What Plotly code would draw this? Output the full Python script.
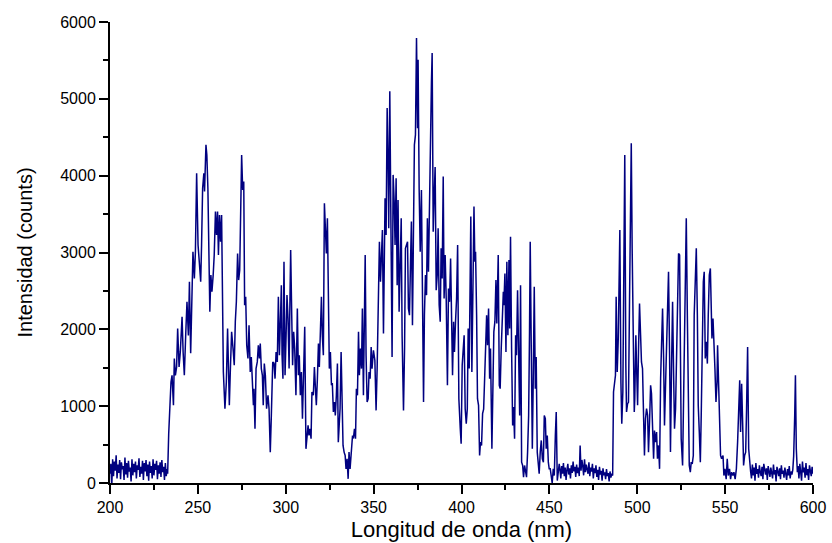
import numpy as np
import plotly.graph_objects as go

# ---- Baseline (noise) regions: start wavelength, step, counts ----
base1_start, base1_step = 200.0, 0.5
base1_counts = [120, 250, -50, 310, 90, 280, 160, 360, 60, 240,
                130, 300, 50, 270, 180, 220, 40, 330, 110, 260,
                70, 290, 150, 200, 20, 310, 100, 250, 140, 280,
                60, 230, 170, 320, 80, 210, 120, 290, 40, 260,
                150, 300, 90, 240, 30, 280, 130, 220, 60, 310,
                100, 250, 170, 290, 50, 230, 120, 270, 80, 300,
                140, 210, 40, 260, 90, 180]

base2_start, base2_step = 456.0, 0.5
base2_counts = [180, 60, 220, 120, 260, 90, 200, 40, 170, 250,
                110, 190, 60, 230, 130, 280, 150, 210, 80, 240,
                130, 200, 90, 489, 160, 300, 220, 100, 310, 140,
                240, 180, 120, 270, 90, 200, 150, 250, 60, 190,
                130, 230, 80, 170, 40, 210, 110, 160, 30, 190,
                100, 140, 50, 180, 90, 130, 20, 150, 70, 120, 97]

base3_start, base3_step = 564.5, 0.5
base3_counts = [150, 60, 240, 100, 200, 30, 260, 120, 180, 70,
                230, 140, 90, 210, 50, 250, 160, 110, 190, 40,
                220, 130, 80, 200, 150, 60, 240, 110, 170, 20,
                210, 140, 90, 190, 50, 230, 120, 160, 70, 200,
                130, 40, 180, 100, 220, 60, 150, 110, 170]

base4_start, base4_step = 591.5, 0.5
base4_counts = [220, 60, 250, 120, 30, 280, 140, 200, 70, 260,
                100, 180, 40, 230, 150, 90, 210, 120]

# ---- Emission regions: wavelength (nm) and counts ----
wl_a = [232.8, 233.4, 234.7, 235.3, 236.1, 236.6, 237.2, 237.9, 238.5, 239.3,
        240.0, 241.0, 241.6, 242.3, 243.1, 243.8, 244.6, 245.2, 245.9, 246.7,
        247.2, 248.0, 248.6, 249.3, 250.1, 250.8, 251.6, 252.1, 252.7, 253.4,
        253.8, 254.6, 255.1, 255.7, 256.3, 256.8, 257.4, 258.0, 258.7, 259.3,
        260.0, 260.6, 261.2, 261.7, 262.3, 262.9, 263.5]
counts_a = [120, 641, 1315, 1402, 1011, 1620, 1402, 1510, 2011, 1510,
            1706, 2163, 1706, 1402, 1945, 2358, 1920, 2619, 1690, 2793,
            3010, 2663, 3010, 4032, 3097, 2880, 2619, 3097, 3836, 4032,
            3793, 4401, 4270, 3836, 3053, 2228, 2706, 2489, 2706, 2967,
            3532, 3228, 3532, 2967, 3489, 3141, 3489]

wl_b = [264.5, 265.4, 266.2, 266.9, 267.9, 268.5, 269.2, 270.0, 270.7, 271.3,
        271.9, 272.6, 273.2, 273.8, 274.3, 274.9, 275.5, 276.1, 276.6, 277.2,
        277.8, 278.5, 279.1, 279.8, 280.4, 281.0, 281.6, 281.9, 282.5, 283.1,
        283.8, 284.4, 285.0, 285.5, 286.1, 286.7, 287.2, 287.8, 288.4, 289.1,
        289.9, 290.5, 291.2, 291.8, 292.6, 293.3, 293.9, 294.5, 295.2, 295.8,
        296.4, 296.9, 297.5, 297.9, 298.4, 299.0, 299.6, 300.2, 300.7, 301.3,
        301.9, 302.4, 302.8, 303.4, 303.9, 304.5, 305.1, 305.8, 306.6, 307.2,
        307.7, 308.3, 308.9, 309.5, 310.2, 310.8, 311.5, 312.1, 312.7, 313.2,
        313.8, 314.4, 314.9, 315.7, 316.3, 316.9, 317.4, 318.0, 318.6, 319.1,
        319.7, 320.3, 320.8, 321.4, 322.0, 322.5, 323.1, 323.7, 324.3, 324.8,
        325.4, 326.0, 326.5, 327.1, 327.7, 328.2, 328.8, 329.4, 329.9]
counts_b = [1445, 967, 1315, 2011, 1011, 1489, 1967, 1750, 1532, 2098,
            2358, 2988, 2641, 2771, 3662, 4270, 3814, 3923, 2315, 2423,
            1793, 1620, 2054, 1445, 1641, 1228, 1011, 1228, 706, 1489,
            1576, 1793, 1620, 1815, 1489, 1402, 1011, 1554, 1402, 967,
            1141, 967, 402, 880, 1576, 1560, 1358, 1706, 1576, 2423,
            1663, 2054, 2575, 1663, 1358, 2880, 1402, 1923, 2445, 2141,
            1489, 2402, 3032, 2184, 1532, 1967, 1750, 1141, 2271, 1402,
            1663, 1141, 1445, 837, 1358, 2032, 445, 576, 750, 619,
            706, 576, 1184, 1141, 1510, 1228, 1011, 1358, 1815, 1510,
            1923, 2423, 1923, 1663, 3640, 3315, 2988, 3445, 1706, 1489,
            1706, 1271, 1300, 924, 1054, 880, 1141, 1554, 532]

wl_c = [330.9, 331.5, 332.1, 332.6, 333.2, 333.8, 334.3, 334.9, 335.5, 336.0,
        336.6, 337.4, 338.0, 338.5, 339.1, 339.7, 340.2, 340.8, 341.4, 341.9,
        342.5, 343.1, 343.6, 344.2, 344.8, 345.2, 345.7, 346.3, 346.9, 347.4,
        348.0, 348.6, 349.1, 349.9, 350.7, 351.4, 352.0, 352.7, 353.3, 353.9,
        354.5, 355.0, 355.6, 356.2, 356.5, 357.1, 357.7, 358.3, 358.6, 359.2,
        359.8, 360.5, 361.1, 361.7, 362.2, 362.8, 363.4, 363.9, 364.5, 365.1,
        365.7, 366.2, 367.0, 367.6, 368.1, 368.7, 369.3, 369.8, 370.4, 371.0,
        371.5, 372.1, 372.7, 373.2, 373.8, 374.4, 375.0, 375.3, 375.9, 376.5,
        377.2, 377.8, 378.4, 378.9, 379.5, 380.1, 380.6, 381.2, 381.8, 382.4,
        382.9, 383.3, 383.9, 384.4, 385.0, 385.6, 386.2, 386.7, 387.3, 387.9,
        388.4, 389.0, 389.6, 390.1, 390.7, 391.3, 392.0, 392.6]
counts_c = [967, 1706, 880, 489, 402, 358, 184, 315, 54, 402,
            184, 445, 619, 580, 706, 576, 1228, 1141, 1967, 1402,
            1750, 1489, 2271, 1141, 1923, 2967, 1663, 1054, 1097, 1445,
            1358, 1771, 1489, 1728, 1598, 945, 1489, 2184, 3141, 2619,
            2967, 3293, 1945, 3315, 3706, 3228, 4879, 4053, 3315, 5097,
            2793, 1641, 4010, 3662, 3097, 3967, 2575, 3684, 2228, 2836,
            3445, 1923, 945, 1750, 3054, 3097, 3141, 2271, 2184, 2880,
            3402, 2054, 3445, 4401, 4531, 5792, 4618, 5510, 3836, 3010,
            3814, 2228, 1054, 2184, 2706, 2445, 3445, 2749, 3662, 4879,
            5227, 5597, 3271, 3706, 4114, 2510, 2706, 3315, 2315, 2098,
            3054, 2663, 3988, 2402, 2967, 2402, 1271, 2532]

wl_d = [393.2, 393.8, 394.3, 394.9, 395.5, 396.0, 396.6, 397.2, 397.8, 398.5,
        399.3, 399.8, 400.4, 401.0, 401.5, 402.1, 402.7, 403.3, 403.8, 404.4,
        405.0, 405.3, 405.9, 406.5, 407.1, 407.6, 408.0, 408.6, 409.1, 409.7,
        410.3, 410.8, 411.4, 412.0, 412.6, 413.1, 413.7, 414.3, 414.8, 415.4,
        416.0, 416.5, 417.3, 417.9, 418.4, 419.0, 419.6, 420.1, 420.9, 421.5,
        422.0, 422.6, 423.2, 423.8, 424.1, 424.7, 425.3, 425.8, 426.4, 427.0,
        427.4, 427.9, 428.5, 429.1, 429.6, 430.2, 430.8, 431.3, 431.9, 432.5,
        433.1, 433.6, 434.2, 434.8, 435.3, 435.9, 436.5, 437.0, 437.6, 438.2,
        438.7, 439.1, 439.7, 440.3, 440.8, 441.4, 442.0, 442.5, 443.1, 443.7,
        444.2, 444.8, 445.4, 446.0, 446.6, 447.1, 447.7, 448.2, 448.8, 449.4,
        449.9, 450.5, 451.1, 451.6, 452.2, 452.8, 453.4, 453.9, 454.5, 455.1,
        455.6]
counts_d = [2358, 2923, 2184, 1402, 2098, 1706, 2100, 2402, 3097, 1097,
            706, 510, 1532, 1706, 1923, 967, 771, 967, 2011, 1489,
            2706, 3467, 1445, 2706, 3597, 2880, 3010, 2184, 1097, 1011,
            358, 532, 489, 902, 960, 1315, 1663, 2184, 1793, 2271,
            1358, 1750, 445, 1402, 1967, 2100, 2641, 2076, 2967, 1271,
            1228, 1750, 2184, 2489, 2315, 2728, 1706, 2880, 1923, 2901,
            2011, 3206, 1750, 750, 989, 576, 1923, 1663, 2510, 1402,
            880, 2575, 271, 228, 76, 228, 141, 76, 402, 880,
            1967, 3141, 1750, 445, 1315, 2554, 1228, 1641, 402, 271,
            120, 402, 554, 315, 271, 880, 837, 445, 619, 271,
            184, 184, 32, 0, 184, 97, 619, 924, 32, 141,
            250]

wl_e = [486.5, 487.1, 487.6, 488.0, 488.6, 489.2, 489.7, 490.1, 490.7, 491.2,
        491.8, 492.4, 492.9, 493.5, 493.9, 494.5, 495.0, 495.6, 496.2, 496.6,
        497.1, 497.7, 498.3, 498.6, 499.2, 499.6, 500.2, 500.7, 501.3, 501.9,
        502.4, 503.0, 503.6, 504.1, 504.7, 505.3, 505.9, 506.4, 507.0, 507.6,
        508.1, 508.7, 509.3, 509.8, 510.4, 511.0, 511.5, 512.1, 512.7, 513.3,
        513.8, 514.4, 515.0, 515.5, 516.1, 516.7, 517.2, 517.8, 518.4, 518.9,
        519.5, 520.1, 520.7, 521.2, 521.8, 522.4, 522.9, 523.5, 524.1, 525.0,
        525.8, 526.6, 527.3, 527.9, 528.5, 529.0, 529.6, 530.2, 530.7, 531.3,
        531.9, 532.4, 533.0, 533.6, 534.2, 534.7, 535.3, 535.9, 536.4, 537.0,
        537.6, 538.1, 538.7, 539.3, 539.9, 540.4, 541.0, 541.6, 541.9, 542.5,
        543.1, 543.7, 544.2, 544.8, 545.4, 545.7, 546.3, 546.9, 547.4, 548.0,
        548.8, 549.3, 549.9, 550.6, 551.2, 551.8, 552.5, 553.1, 553.7, 554.4,
        555.0, 555.7, 556.4, 557.1, 557.7, 558.3, 558.8, 559.4, 560.0, 560.5,
        561.1, 561.7, 562.2, 562.8, 563.4, 563.9]
counts_e = [1184, 1315, 1402, 2423, 1445, 1880, 2600, 3293, 1315, 771,
            1184, 2793, 4270, 1532, 924, 1032, 1050, 2358, 3662, 4423,
            3054, 1402, 924, 1100, 1923, 1532, 1011, 1706, 2336, 1923,
            1576, 1489, 793, 358, 837, 967, 880, 402, 793, 1271,
            1163, 793, 315, 684, 532, 663, 315, 489, 184, 1358,
            2011, 2271, 1620, 750, 1271, 1750, 2011, 2749, 1663, 402,
            1489, 2358, 1402, 706, 967, 1923, 2663, 2988, 2967, 576,
            228, 1750, 3054, 3445, 2184, 1315, 228, 141, 271, 250,
            358, 2184, 2706, 3054, 2184, 1011, 663, 271, 880, 1837,
            2619, 2749, 1620, 1837, 1554, 2184, 2706, 2793, 2402, 1880,
            2141, 1880, 1489, 1054, 1315, 1793, 1228, 793, 358, 315,
            358, 97, 184, 50, 315, 97, 184, 50, 141, 97,
            141, 50, 184, 532, 1011, 1337, 663, 1293, 750, 228,
            358, 402, 967, 1771, 445, 228]

wl_f = [589.0, 589.6, 590.0, 590.5, 591.1]
counts_f = [350, 880, 1402, 445, 141]

x_ticks = [200, 250, 300, 350, 400, 450, 500, 550, 600]
y_ticks = [0, 1000, 2000, 3000, 4000, 5000, 6000]


def baseline(start, step, vals):
    return [start + step * i for i in range(len(vals))], list(vals)


segments = [
    baseline(base1_start, base1_step, base1_counts),
    (wl_a, counts_a), (wl_b, counts_b), (wl_c, counts_c), (wl_d, counts_d),
    baseline(base2_start, base2_step, base2_counts),
    (wl_e, counts_e),
    baseline(base3_start, base3_step, base3_counts),
    (wl_f, counts_f),
    baseline(base4_start, base4_step, base4_counts),
]
wl, counts = [], []
for sx, sy in segments:
    wl.extend(sx)
    counts.extend(sy)

FONT = "Liberation Sans, Arial, sans-serif"

fig = go.Figure(go.Scatter(x=wl, y=counts, mode="lines",
                           line=dict(color="#000080", width=1.5),
                           showlegend=False))

axis_common = dict(showline=True, linecolor="black", linewidth=2,
                   ticks="outside", ticklen=9, tickwidth=2, tickcolor="black",
                   showgrid=False, zeroline=False, automargin=False,
                   tickfont=dict(family=FONT, size=16, color="black"))

fig.update_layout(
    width=832, height=543,
    margin=dict(l=110, r=19, t=22, b=60),
    paper_bgcolor="white", plot_bgcolor="white",
    xaxis=dict(range=[200, 600], tickvals=x_ticks,
               minor=dict(dtick=25, ticklen=5, tickwidth=2, tickcolor="black", ticks="outside"),
               title=dict(text="Longitud de onda (nm)", font=dict(family=FONT, size=22, color="black"),
                          standoff=6),
               **axis_common),
    yaxis=dict(range=[0, 6000], tickvals=y_ticks,
               minor=dict(dtick=500, ticklen=5, tickwidth=2, tickcolor="black", ticks="outside"),
               title=dict(text="Intensidad (counts)", font=dict(family=FONT, size=20, color="black"),
                          standoff=22),
               **axis_common),
)

fig.write_html("out.html", config={"displayModeBar": False},
               post_script="document.body.style.margin='0';")
